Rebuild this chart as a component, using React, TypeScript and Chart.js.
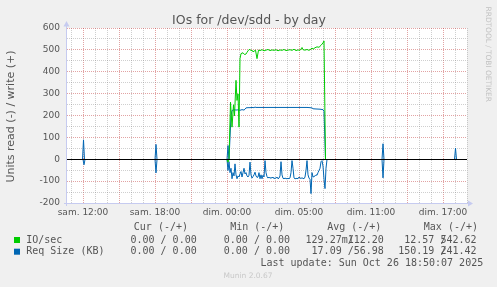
import React, { useEffect, useRef } from 'react';
import { Chart, registerables } from 'chart.js';

Chart.register(...registerables);

// x unit: 5-minute slot counted from the left edge of the graph (400 slots)
const xLabelSlots = [16, 88, 160, 232, 304, 376];
const xLabels = ['sam. 12:00', 'sam. 18:00', 'dim. 00:00', 'dim. 05:00', 'dim. 11:00', 'dim. 17:00'];
const yLabelValues = [-200, -100, 0, 100, 200, 300, 400, 500, 600];

// IO/sec, write (+)
const ioWriteSlots = [0, 162, 163.5, 165, 166.5, 167.5, 169, 170, 171, 172, 173, 174, 176, 177.5, 179, 180, 181.5, 183, 184, 185, 186, 188.5, 190, 191.5, 193, 195, 197, 199, 201, 203, 205, 207, 209, 211, 213, 215, 217, 219, 221, 223, 225, 227, 229, 231, 233, 234, 235, 236, 238, 240, 242, 244, 245, 246, 248, 250, 252, 254, 256, 257, 258.5, 400];
const ioWriteValues = [0, 0, 262, 148, 250, 200, 362, 270, 300, 148, 461, 484, 488, 480, 482, 490, 500, 504, 497, 500, 492, 500, 461, 500, 498, 502, 497, 500, 503, 498, 501, 499, 502, 497, 501, 499, 503, 498, 500, 502, 499, 504, 498, 501, 499, 505, 512, 502, 500, 503, 499, 505, 510, 504, 511, 515, 513, 522, 533, 542, 0, 0];

// IO/sec, read (-)
const ioReadSlots = [0, 160, 161, 162, 400];
const ioReadValues = [0, 0, -12, 0, 0];

// Req Size (KB), write (+)
const reqWriteSlots = [0, 15.5, 16.5, 17.5, 88, 89, 90, 160, 161, 162, 163, 164, 165, 167, 169, 171, 173, 175, 177, 178, 179, 181, 183, 185, 187, 188, 189, 200, 210, 220, 230, 240, 243, 245, 246, 249, 253, 256, 257, 258.5, 315, 316, 317, 387.5, 388.5, 389.5, 400];
const reqWriteValues = [0, 0, 90, 0, 0, 69, 0, 0, 64, 0, 100, 200, 224, 228, 226, 227, 225, 228, 226, 230, 236, 237, 237, 238, 237, 240, 238, 238, 238, 238, 238, 238, 237, 236, 232, 231, 230, 228, 220, 0, 0, 72, 0, 0, 52, 0, 0];

// Req Size (KB), read (-)
const reqReadSlots = [0, 16, 17, 18, 88, 89, 90, 160, 161, 162, 163, 164, 165, 166, 167, 168, 169, 170, 171, 172, 173, 174, 175, 176, 177, 178, 179, 180, 181, 182, 183, 184, 185, 186, 187, 188, 189, 190, 191, 192, 193, 194, 195, 196, 197, 198, 199, 200, 201, 202, 203, 204, 205, 206, 207, 208, 209, 210, 211, 212, 213, 214, 215, 216, 217, 218, 219, 220, 221, 222, 223, 224, 225, 226, 227, 228, 229, 230, 231, 232, 233, 234, 235, 236, 237, 238, 239, 240, 241, 242, 243, 244, 245, 246, 247, 248, 249, 250, 251, 252, 253, 254, 255, 256, 257, 258, 259, 260, 315, 316, 317, 400];
const reqReadValues = [0, 0, -24, 0, 0, -61, 0, 0, -50, -10, -60, -40, -88, -60, -75, -20, -70, -88, -75, -80, -66, -55, -80, -60, -40, -66, -60, -75, -80, -72, -12, -70, -85, -78, -70, -58, -75, -82, -80, -60, -88, -70, -88, -72, -80, -5, -60, -78, -85, -80, -86, -82, -85, -80, -88, -84, -86, -80, -88, -85, -75, -10, -70, -86, -88, -85, -87, -88, -86, -88, -84, -60, -5, -40, -84, -88, -87, -86, -88, -80, -85, -86, -84, -86, -88, -80, -50, -5, -70, -85, -90, -156, -60, -80, -78, -75, -70, -72, -60, -50, -40, -10, -5, -30, -90, -133, -40, 0, 0, -84, 0, 0];

// legend
const seriesNames = ['IO/sec', 'Req Size (KB)'];
const statHeaders = ['Cur (-/+)', 'Min (-/+)', 'Avg (-/+)', 'Max (-/+)'];
const ioStats = [['0.00 ', '0.00'], ['0.00 ', '0.00'], ['129.27m', '112.20'], ['12.57 ', '542.62']];
const reqStats = [['0.00 ', '0.00'], ['0.00 ', '0.00'], ['17.09 ', '56.98'], ['150.19 ', '241.42']];
const lastUpdate = 'Last update: Sun Oct 26 18:50:07 2025';

const GREEN = '#00cc00';
const BLUE = '#0066b3';
const MINOR = 'rgba(128,128,128,0.38)';
const MAJOR = 'rgba(190,50,50,0.45)';
const AXIS = '#c6cbf0';
const TXT = '#555555';

const hourSlots: number[] = [];
for (let s = 4; s <= 400; s += 12) hourSlots.push(s);
const yGrid: number[] = [];
for (let v = -200; v <= 600; v += 50) yGrid.push(v);

const toPoints = (xs: number[], ys: number[]) => xs.map((x, i) => ({ x, y: ys[i] }));

const muninPlugin = {
  id: 'munin',
  beforeDraw(chart: any) {
    const { ctx, chartArea: a } = chart;
    ctx.save();
    ctx.fillStyle = '#f0f0f0';
    ctx.fillRect(0, 0, chart.width, chart.height);
    ctx.fillStyle = '#ffffff';
    ctx.fillRect(a.left, a.top, a.right - a.left, a.bottom - a.top);
    ctx.restore();
  },
  beforeDatasetsDraw(chart: any) {
    // snap the value-0 level onto the pixel row used by the zero rule
    const { ctx, scales } = chart;
    const p = scales.y.getPixelForValue(0);
    ctx.save();
    ctx.translate(0, Math.round(p) + 0.5 - p);
  },
  afterDatasetsDraw(chart: any) {
    const { ctx, chartArea: a, scales } = chart;
    ctx.restore();
    ctx.save();
    const y0 = Math.round(scales.y.getPixelForValue(0)) + 0.5;
    ctx.strokeStyle = '#000';
    ctx.lineWidth = 1;
    ctx.beginPath();
    ctx.moveTo(a.left, y0);
    ctx.lineTo(a.right, y0);
    ctx.stroke();
    // axes
    ctx.strokeStyle = AXIS;
    ctx.fillStyle = AXIS;
    const ax = a.left - 0.5;
    const ay = a.bottom + 0.5;
    ctx.beginPath();
    ctx.moveTo(ax, a.bottom + 3);
    ctx.lineTo(ax, a.top - 2);
    ctx.moveTo(a.left - 3, ay);
    ctx.lineTo(a.right + 2, ay);
    ctx.stroke();
    ctx.beginPath();
    ctx.moveTo(ax - 3, a.top - 1.5);
    ctx.lineTo(ax + 3, a.top - 1.5);
    ctx.lineTo(ax, a.top - 7);
    ctx.closePath();
    ctx.fill();
    ctx.beginPath();
    ctx.moveTo(a.right + 1, ay - 3);
    ctx.lineTo(a.right + 1, ay + 3);
    ctx.lineTo(a.right + 6, ay);
    ctx.closePath();
    ctx.fill();
    ctx.restore();
  },
  afterDraw(chart: any) {
    const { ctx } = chart;
    ctx.save();
    // title
    ctx.fillStyle = TXT;
    ctx.font = '12.5px "DejaVu Sans"';
    ctx.textAlign = 'center';
    ctx.textBaseline = 'alphabetic';
    ctx.fillText('IOs for /dev/sdd - by day', 249, 23.7);
    // y title
    ctx.save();
    ctx.translate(11.2, 116.5);
    ctx.rotate(-Math.PI / 2);
    ctx.font = '11px "DejaVu Sans"';
    ctx.textBaseline = 'middle';
    ctx.fillText('Units read (-) / write (+)', 0, 0);
    ctx.restore();
    // rrdtool credit
    ctx.save();
    ctx.translate(487.8, 54.2);
    ctx.rotate(Math.PI / 2);
    ctx.font = '7.4px "DejaVu Sans"';
    ctx.fillStyle = '#c2c2c2';
    ctx.textBaseline = 'middle';
    ctx.fillText('RRDTOOL / TOBI OETIKER', 0, 0);
    ctx.restore();
    // legend
    ctx.font = '10px "DejaVu Sans Mono"';
    ctx.textBaseline = 'middle';
    ctx.fillStyle = TXT;
    const headerX = [133.8, 230.2, 327.2, 423.8];
    const slashX = [160.6, 253.9, 347.7, 440.4];
    const endX = [196.7, 290, 383.8, 476.5];
    ctx.textAlign = 'left';
    statHeaders.forEach((h, i) => ctx.fillText(h, headerX[i], 227.3));
    const rows = [ioStats, reqStats];
    const rowY = [240, 251.7];
    const colors = [GREEN, BLUE];
    rows.forEach((stats, r) => {
      ctx.fillStyle = colors[r];
      ctx.fillRect(14, rowY[r] - 3, 6, 6);
      ctx.fillStyle = TXT;
      ctx.textAlign = 'left';
      ctx.fillText(seriesNames[r], 26.2, rowY[r]);
      stats.forEach((pair, c) => {
        ctx.textAlign = 'right';
        ctx.fillText(pair[0], slashX[c], rowY[r]);
        ctx.textAlign = 'left';
        ctx.fillText('/', slashX[c], rowY[r]);
        ctx.textAlign = 'right';
        ctx.fillText(pair[1], endX[c], rowY[r]);
      });
    });
    ctx.textAlign = 'right';
    ctx.fillText(lastUpdate, 483.2, 263);
    // version
    ctx.font = '7.5px "DejaVu Sans"';
    ctx.fillStyle = '#c8c8c8';
    ctx.textAlign = 'center';
    ctx.fillText('Munin 2.0.67', 248, 276.3);
    ctx.restore();
  },
};

function line(xs: number[], ys: number[], color: string) {
  return {
    data: toPoints(xs, ys),
    borderColor: color,
    backgroundColor: color,
    borderWidth: 1,
    pointRadius: 0,
    fill: false,
    tension: 0,
  };
}

export default function App() {
  const ref = useRef<HTMLCanvasElement>(null);
  useEffect(() => {
    if (!ref.current) return;
    const chart = new Chart(ref.current, {
      type: 'line',
      data: {
        datasets: [
          line(ioReadSlots, ioReadValues, GREEN),
          line(ioWriteSlots, ioWriteValues, GREEN),
          line(reqReadSlots, reqReadValues, BLUE),
          line(reqWriteSlots, reqWriteValues, BLUE),
        ] as any,
      },
      options: {
        responsive: false,
        animation: false,
        events: [],
        layout: { padding: { left: 0, top: 28, right: 30, bottom: 0 } },
        plugins: {
          legend: { display: false },
          tooltip: { enabled: false },
          title: { display: false },
        },
        scales: {
          x: {
            type: 'linear',
            min: 0,
            max: 400,
            afterBuildTicks: (s: any) => {
              s.ticks = hourSlots.map((v) => ({ value: v }));
            },
            afterFit: (s: any) => {
              s.height = 84;
            },
            ticks: {
              autoSkip: false,
              maxRotation: 0,
              minRotation: 0,
              padding: 4,
              color: TXT,
              font: { family: 'DejaVu Sans', size: 9 },
              callback: (v: any) => {
                const i = xLabelSlots.indexOf(Number(v));
                return i >= 0 ? xLabels[i] : '';
              },
            },
            grid: {
              color: (c: any) => (c.tick && (c.tick.value - 16) % 36 === 0 ? MAJOR : MINOR),
              lineWidth: 1,
              drawTicks: false,
            },
            border: { display: false, dash: [1, 1] },
          },
          y: {
            type: 'linear',
            min: -200,
            max: 600,
            afterBuildTicks: (s: any) => {
              s.ticks = yGrid.map((v) => ({ value: v }));
            },
            afterFit: (s: any) => {
              s.width = 67;
            },
            ticks: {
              autoSkip: false,
              padding: 7,
              color: TXT,
              font: { family: 'DejaVu Sans', size: 9 },
              callback: (v: any) => (yLabelValues.indexOf(Number(v)) >= 0 ? String(v) : ''),
            },
            grid: {
              color: (c: any) => (c.tick && c.tick.value % 100 === 0 ? MAJOR : MINOR),
              lineWidth: 1,
              drawTicks: false,
            },
            border: { display: false, dash: [1, 1] },
          },
        },
      } as any,
      plugins: [muninPlugin],
    });
    return () => chart.destroy();
  }, []);
  return (
    <div style={{ position: 'absolute', left: 0, top: 0, width: 497, height: 287, background: '#f0f0f0' }}>
      <canvas ref={ref} width={497} height={287} style={{ display: 'block', width: 497, height: 287 }} />
    </div>
  );
}
